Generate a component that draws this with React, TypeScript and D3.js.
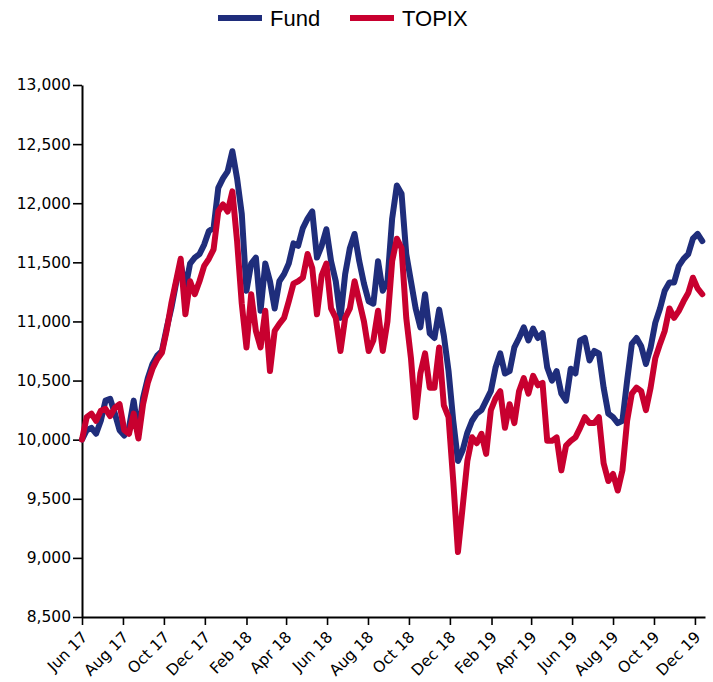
import { useEffect, useRef } from "react";
import * as d3 from "d3";

// weekly closes, rebased to 10,000 at launch
const startDate = new Date(2017, 5, 1);
const axisEnd = new Date(2019, 11, 16);

const fundValues = [
  10000, 10080, 10100, 10050, 10160, 10330, 10345, 10220, 10080, 10035,
  10100, 10330, 10050, 10355, 10520, 10640, 10710, 10750, 10940, 11110,
  11320, 11490, 11280, 11490, 11540, 11570, 11650, 11765, 11790, 12130,
  12210, 12270, 12440, 12210, 11910, 11260, 11490, 11540, 11090, 11490,
  11340, 11110, 11340, 11400, 11490, 11660, 11640, 11790, 11870, 11930,
  11540, 11640, 11780, 11510, 11340, 11030, 11400, 11620, 11740, 11510,
  11320, 11170, 11150, 11510, 11260, 11340, 11870, 12150, 12080, 11570,
  11340, 11110, 10950, 11230, 10900, 10860, 11100, 10880, 10580, 10160,
  9820, 9910, 10060, 10160, 10220, 10250, 10330, 10410, 10610, 10730,
  10560, 10580, 10780, 10860, 10950, 10840, 10940, 10860, 10900, 10610,
  10500, 10580, 10390, 10330, 10600, 10560, 10840, 10860, 10670, 10750,
  10730, 10440, 10220, 10190, 10140, 10160, 10500, 10810, 10860, 10790,
  10640, 10780, 10990, 11110, 11260, 11330, 11330, 11470, 11530, 11570,
  11700, 11740, 11680,
];

const topixValues = [
  10000, 10190, 10220, 10160, 10245, 10260, 10200, 10270, 10300, 10080,
  10050, 10220, 10010, 10300, 10480, 10600, 10680, 10735, 10920, 11150,
  11340, 11530, 11060, 11340, 11230, 11340, 11470, 11530, 11610, 11930,
  11990, 11930, 12100, 11680, 11150, 10780, 11230, 10920, 10780, 11090,
  10580, 10920, 10980, 11030, 11170, 11320, 11340, 11370, 11570, 11450,
  11060, 11390, 11490, 11110, 11030, 10750, 11030, 11110, 11340, 11170,
  11000, 10750, 10840, 11090, 10750, 11000, 11510, 11700, 11620, 11030,
  10690, 10190, 10560, 10730, 10440, 10440, 10780, 10290, 10190, 9650,
  9050, 9430, 9820, 10020, 9970, 10050, 9880, 10250, 10350, 10410,
  10100, 10300, 10140, 10410, 10520, 10390, 10540, 10460, 10480, 9990,
  9990, 10020, 9740, 9950, 9990, 10020, 10100, 10190, 10140, 10140,
  10190, 9800, 9650, 9710, 9570, 9740, 10160, 10390, 10440, 10410,
  10250, 10440, 10690, 10810, 10920, 11110, 11030, 11090, 11170, 11240,
  11370, 11280, 11230,
];

const yTicks = [8500, 9000, 9500, 10000, 10500, 11000, 11500, 12000, 12500, 13000];
const seriesNames = ["Fund", "TOPIX"];
const seriesColors = ["#1f2d7b", "#c8002f"];

export default function App() {
  const svgRef = useRef<SVGSVGElement>(null);

  useEffect(() => {
    if (!svgRef.current) return;
    const svg = d3.select(svgRef.current);
    svg.selectAll("*").remove();

    const width = 713;
    const height = 682;
    const margin = { top: 85, right: 8, bottom: 65, left: 82 };

    const x = d3
      .scaleTime()
      .domain([startDate, axisEnd])
      .range([margin.left, width - margin.right]);

    const y = d3
      .scaleLinear()
      .domain([8500, 13000])
      .range([height - margin.bottom, margin.top]);

    const dates = fundValues.map((_, i) => d3.timeDay.offset(startDate, i * 7));

    const xTicks = d3
      .timeMonth.range(startDate, axisEnd)
      .filter((d) => d.getMonth() % 2 === 1);

    const font = "'DejaVu Sans', sans-serif";

    // y axis
    const yAxis = svg
      .append("g")
      .attr("transform", `translate(${margin.left},0)`)
      .call(
        d3
          .axisLeft(y)
          .tickValues(yTicks)
          .tickFormat(d3.format(","))
          .tickSize(9)
          .tickSizeOuter(0),
      );
    yAxis.select(".domain").attr("stroke", "#000").attr("stroke-width", 2);
    yAxis.selectAll(".tick line").attr("stroke", "#000").attr("stroke-width", 1.6);
    yAxis
      .selectAll(".tick text")
      .attr("x", -11)
      .attr("fill", "#000")
      .style("font-family", font)
      .style("font-size", "15.5px");

    // x axis
    const xAxis = svg
      .append("g")
      .attr("transform", `translate(0,${height - margin.bottom})`)
      .call(
        d3
          .axisBottom(x)
          .tickValues(xTicks)
          .tickFormat((d) => d3.timeFormat("%b %y")(d as Date))
          .tickSize(8)
          .tickSizeOuter(0),
      );
    xAxis.select(".domain").attr("stroke", "#000").attr("stroke-width", 2);
    xAxis.selectAll(".tick line").attr("stroke", "#000").attr("stroke-width", 1.6);
    xAxis
      .selectAll(".tick text")
      .attr("x", 0)
      .attr("y", 0)
      .attr("dy", 0)
      .attr("text-anchor", "end")
      .attr("transform", "translate(6,21) rotate(-45)")
      .attr("fill", "#000")
      .style("font-family", font)
      .style("font-size", "15.5px");

    // lines, TOPIX drawn over the fund
    const line = d3
      .line<number>()
      .x((_, i) => x(dates[i]))
      .y((d) => y(d))
      .curve(d3.curveLinear);

    [fundValues, topixValues].forEach((vals, k) => {
      svg
        .append("path")
        .datum(vals)
        .attr("fill", "none")
        .attr("stroke", seriesColors[k])
        .attr("stroke-width", 6)
        .attr("stroke-linejoin", "round")
        .attr("stroke-linecap", "round")
        .attr("d", line);
    });

    // legend
    const legendPos = [218, 350];
    const legend = svg.append("g");
    seriesNames.forEach((name, k) => {
      legend
        .append("line")
        .attr("x1", legendPos[k])
        .attr("x2", legendPos[k] + 44)
        .attr("y1", 18)
        .attr("y2", 18)
        .attr("stroke", seriesColors[k])
        .attr("stroke-width", 6);
      legend
        .append("text")
        .attr("x", legendPos[k] + 52)
        .attr("y", 26)
        .attr("fill", "#000")
        .style("font-family", "'Liberation Sans', Arial, sans-serif")
        .style("font-size", "22px")
        .text(name);
    });
  }, []);

  return (
    <svg
      ref={svgRef}
      width={713}
      height={682}
      style={{ position: "absolute", left: 0, top: 0, background: "#fff" }}
    />
  );
}
